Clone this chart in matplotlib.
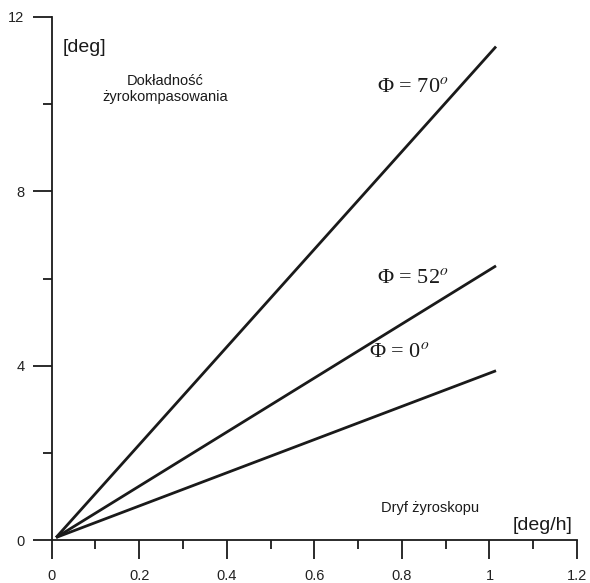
import matplotlib
matplotlib.use("Agg")
import matplotlib.pyplot as plt
from matplotlib.ticker import MultipleLocator

plt.rcParams['font.family'] = ['Liberation Sans', 'DejaVu Sans']
plt.rcParams['mathtext.fontset'] = 'stix'

# data
drift = [0.01, 1.015]
acc_0 = [0.06, 3.885]
acc_52 = [0.06, 6.29]
acc_70 = [0.06, 11.32]
series = [acc_0, acc_52, acc_70]
labels = ['Φ = 0$^o$', 'Φ = 52$^o$', 'Φ = 70$^o$']
label_pos = [(0.795, 4.3), (0.825, 6.0), (0.825, 10.37)]
xticks = [0, 0.2, 0.4, 0.6, 0.8, 1.0, 1.2]
xticklabels = ['0', '0.2', '0.4', '0.6', '0.8', '1', '1.2']
yticks = [0, 4, 8, 12]

fig = plt.figure(figsize=(5.9, 5.83), dpi=100)
ax = fig.add_axes([51.7/590, (583-540.1)/583, (577-51.7)/590, (540.1-16.9)/583])

for s in series:
    ax.plot(drift, s, color='#1a1a1a', lw=2.0, solid_capstyle='butt', clip_on=False)

for lab, (x, y) in zip(labels, label_pos):
    ax.text(x, y, lab, fontsize=16, ha='center', va='center', color='#1a1a1a',
            family=['Liberation Serif', 'DejaVu Serif'])

ax.set_xlim(0, 1.2)
ax.set_ylim(0, 12)
ax.set_xticks(xticks)
ax.set_xticklabels(xticklabels)
ax.set_yticks(yticks)
ax.set_yticklabels([str(v) for v in yticks])
ax.xaxis.set_minor_locator(MultipleLocator(0.1))
ax.yaxis.set_minor_locator(MultipleLocator(2))

for sp in ['top', 'right']:
    ax.spines[sp].set_visible(False)
for sp in ['left', 'bottom']:
    ax.spines[sp].set_linewidth(1.3)
    ax.spines[sp].set_color('#1a1a1a')

ax.tick_params(which='major', direction='out', length=13.5, width=1.3, color='#1a1a1a',
               labelsize=10.5, labelcolor='#222222')
ax.tick_params(axis='x', which='major', pad=7)
ax.tick_params(axis='y', which='major', pad=6)
ax.tick_params(which='minor', direction='out', length=6.5, width=1.3, color='#1a1a1a')

fig.text(84/590, 1-47/583, '[deg]', fontsize=14, ha='center', va='center', color='#1a1a1a')
fig.text(165/590, 1-81/583, 'Dokładność', fontsize=10.5, ha='center', va='center', color='#1a1a1a')
fig.text(165/590, 1-97/583, 'żyrokompasowania', fontsize=10.5, ha='center', va='center', color='#1a1a1a')
fig.text(430/590, 1-508/583, 'Dryf żyroskopu', fontsize=10.5, ha='center', va='center', color='#1a1a1a')
fig.text(543/590, 1-525/583, '[deg/h]', fontsize=14, ha='center', va='center', color='#1a1a1a')

fig.savefig('out.png', dpi=100)
